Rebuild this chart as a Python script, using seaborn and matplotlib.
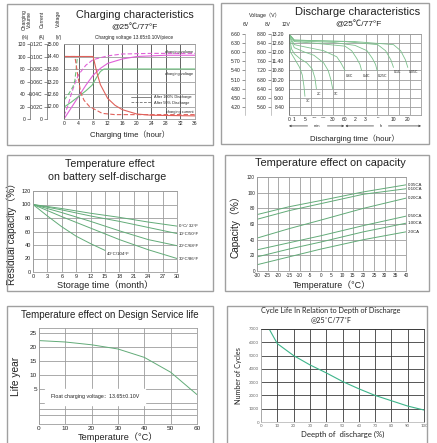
import numpy as np
import pandas as pd
import seaborn as sns
import matplotlib.pyplot as plt
from matplotlib.patches import Rectangle
from matplotlib.lines import Line2D
from matplotlib.ticker import FixedLocator

W, H = 437, 443

# ---------------- data ----------------
# 1. charging characteristics (hours, value on the 0-120 "charging volume" scale)
chg_vol100_h = [0, 2, 4, 6, 8, 10, 12, 16, 20, 24, 28, 36]
chg_vol100 = [0, 18, 36, 54, 70, 81, 89, 96, 100, 101, 102, 102]
chg_vol50_h = [0, 1, 2, 3, 4, 6, 8, 12, 16, 24, 36]
chg_vol50 = [5, 20, 40, 57, 71, 86, 95, 101, 104, 105, 105]
chg_volt100_h = [0, 2, 4, 6, 7.7, 9, 10, 11, 36]
chg_volt100 = [19, 27, 36, 45, 54, 67, 76, 80, 80]
chg_volt50_h = [0, 1.5, 2.5, 3, 3.3, 3.6, 3.9]
chg_volt50 = [30, 42, 52, 62, 78, 95, 100]
chg_cur100_h = [0, 8, 9, 10, 12, 14, 16, 20, 24, 36]
chg_cur100 = [100, 100, 75, 55, 33, 22, 15, 8, 6, 5]
chg_cur50_h = [0, 3, 3.7, 4.6, 5.5, 7, 10.5, 14, 36]
chg_cur50 = [100, 100, 73, 42, 30, 20, 9, 7, 7]

chg_left_ticks = [0, 20, 40, 60, 80, 100, 120]
chg_vol_labels = ['0', '20', '40', '60', '80', '100', '120']
chg_cur_labels = ['0', '0.02C', '0.04C', '0.06C', '0.08C', '0.10C', '0.12C']
chg_volt_labels = ['', '12.00', '12.60', '13.20', '13.80', '14.40', '15.00']

# 2. discharge characteristics (minutes, volts of a 12V block)
dis_rates = ['3C', '2C', '1C', '0.6C', '0.4C', '0.25C', '0.1C', '0.05C']
dis_min = [
    [0, 0.3, 1, 2, 3, 4, 4.6, 5],
    [0, 0.5, 1, 3, 6, 9, 11, 12.5],
    [0, 1, 5, 10, 20, 25, 28, 30],
    [0, 1, 5, 20, 40, 50, 60],
    [0, 1, 10, 60, 100, 130, 150, 160],
    [0, 1, 30, 120, 200, 250, 280, 295],
    [0, 1, 60, 300, 450, 550, 600],
    [0, 1, 120, 600, 900, 1100, 1200],
]
dis_volt = [
    [13.1, 12.0, 11.6, 11.3, 11.0, 10.5, 9.8, 9.1],
    [13.1, 12.2, 11.9, 11.6, 11.3, 10.9, 10.3, 9.6],
    [13.1, 12.3, 12.0, 11.8, 11.3, 10.8, 10.2, 9.6],
    [13.15, 12.5, 12.35, 12.1, 11.7, 11.3, 10.8],
    [13.2, 12.7, 12.6, 12.4, 12.1, 11.6, 11.2, 10.8],
    [13.2, 12.75, 12.65, 12.45, 12.1, 11.6, 11.2, 10.8],
    [13.2, 12.8, 12.7, 12.5, 12.1, 11.5, 11.0],
    [13.2, 12.8, 12.7, 12.5, 12.1, 11.5, 11.0],
]
dis_tick_min = [0, 1, 5, 10, 20, 30, 60, 120, 180, 300, 600, 1200]
dis_tick_labels = ['0', '1', '5', '10', '20', '30', '60', '2', '3', '5', '10', '20']
dis_v12 = [8.4, 9.0, 9.6, 10.2, 10.8, 11.4, 12.0, 12.6, 13.2]

# 3. self discharge (months, residual capacity %)
sd_temps = ['0°C/ 32°F', '10°C/50°F', '20°C/68°F', '30°C/86°F', '40°C/104°F']
sd_months = [
    [0, 6, 12, 18, 24, 30],
    [0, 6, 12, 18, 24, 30],
    [0, 6, 12, 18, 24, 30],
    [0, 6, 12, 18, 24, 30],
    [0, 3, 6, 9, 12, 15],
]
sd_capacity = [
    [100, 94, 87, 81, 74, 68],
    [100, 92, 83, 75, 66, 57],
    [100, 88, 75, 61, 48, 39],
    [100, 82, 65, 48, 33, 20],
    [100, 83, 67, 53, 42, 32],
]

# 4. temperature vs capacity
cap_rates = ['0.05CA', '0.10CA', '0.20CA', '0.50CA', '1.00CA', '2.0CA']
cap_temp = [-30, -15, 0, 20, 40]
cap_values = [
    [72, 82, 90, 101, 110],
    [66, 77, 86, 98, 105],
    [42, 54, 65, 80, 93],
    [27, 36, 45, 58, 70],
    [18, 28, 37, 50, 61],
    [8, 18, 28, 40, 50],
]

# 5. design service life
life_temp = [0, 10, 20, 30, 40, 50, 60]
life_years = [22.3, 21.8, 20.8, 19.3, 16.3, 11.0, 3.0]

# 6. cycle life
dod = [5, 10, 20, 30, 40, 50, 60, 70, 80, 90, 100]
cycles = [7000, 5900, 5000, 4300, 3700, 3050, 2500, 2000, 1600, 1200, 900]

# ---------------- style ----------------
sns.set_theme(style='white')
plt.rcParams['font.family'] = ['Liberation Sans', 'Noto Sans CJK SC', 'DejaVu Sans']
plt.rcParams['axes.linewidth'] = 0.6
plt.rcParams['axes.unicode_minus'] = False

GREEN = '#62ab78'
GRID = '#9c9c9c'
DARK = '#4a4a4a'
TXT = '#222222'

fig = plt.figure(figsize=(W / 100, H / 100), dpi=100)


def box(l, t, r, b):
    return [l / W, 1 - b / H, (r - l) / W, (b - t) / H]


def ftext(x, y, s, size, **kw):
    kw.setdefault('ha', 'center')
    kw.setdefault('va', 'center')
    fig.text(x / W, 1 - y / H, s, fontsize=size, color=TXT, **kw)


def frame(l, t, r, b):
    fig.patches.append(Rectangle((l / W, 1 - b / H), (r - l) / W, (b - t) / H,
                                 transform=fig.transFigure, fill=False,
                                 ec='#a0a0a0', lw=1.0))


def style_axes(ax, size, gcolor=GRID, pad=1.5):
    ax.tick_params(labelsize=size, length=0, pad=pad, colors=TXT)
    ax.grid(True, color=gcolor, lw=0.6)
    for s in ax.spines.values():
        s.set_color(gcolor)
        s.set_linewidth(0.6)


for b in [(7, 4, 213, 145), (221, 3, 429, 144), (7, 155, 213, 291),
          (225, 155, 429, 291), (7, 306, 213, 446), (227, 306, 427, 446)]:
    frame(*b)

# ---------- 1. charging characteristics ----------
parts = [('volume', 'After 100% Discharge', chg_vol100_h, chg_vol100),
         ('volume', 'After 50% Discharge', chg_vol50_h, chg_vol50),
         ('voltage', 'After 100% Discharge', chg_volt100_h, chg_volt100),
         ('voltage', 'After 50% Discharge', chg_volt50_h, chg_volt50),
         ('current', 'After 100% Discharge', chg_cur100_h, chg_cur100),
         ('current', 'After 50% Discharge', chg_cur50_h, chg_cur50)]
df1 = pd.concat([pd.DataFrame({'hour': xs, 'val': ys, 'curve': c, 'kind': k})
                 for c, k, xs, ys in parts], ignore_index=True)

ax1 = fig.add_axes(box(64, 44, 195, 119))
sns.lineplot(data=df1, x='hour', y='val', hue='curve', style='kind',
             palette={'volume': '#e060d8', 'voltage': '#6cbf7c', 'current': '#e0605a'},
             dashes={'After 100% Discharge': '', 'After 50% Discharge': (4, 2)},
             estimator=None, sort=False, lw=0.8, legend=False, ax=ax1)
ax1.set_xlim(0, 36)
ax1.set_ylim(0, 120)
ax1.set_xticks(range(0, 37, 4))
ax1.set_yticks(chg_left_ticks, chg_volt_labels)
style_axes(ax1, 3.6)
ax1.grid(True, axis='x', color=DARK, lw=0.6)
ax1.spines['left'].set_color('#666')
ax1.tick_params(axis='y', length=2, width=0.5, color='#666')
ax1.set_xlabel('Charging time（hour）', fontsize=5.6, labelpad=3, color=TXT)
ax1.set_ylabel('')
for loc, labels in [(-0.13, chg_cur_labels), (-0.26, chg_vol_labels)]:
    sec = ax1.secondary_yaxis(loc)
    sec.set_ticks(chg_left_ticks, labels=labels)
    sec.tick_params(labelsize=3.6, length=2, width=0.5, color='#666', pad=1, colors=TXT)
    sec.spines['left'].set_color('#666')
    sec.spines['left'].set_linewidth(0.5)

ax1.text(35.6, 108, 'charging volume', fontsize=2.8, ha='right', va='center', color=TXT)
ax1.text(35.6, 72, 'charging voltage', fontsize=2.8, ha='right', va='center', color=TXT)
ax1.text(35.6, 12, 'charging current', fontsize=2.8, ha='right', va='center', color=TXT)
handles = [Line2D([], [], color='#555', lw=0.5),
           Line2D([], [], color='#555', lw=0.5, ls=(0, (4, 2)))]
ax1.legend(handles, ['After 100% Discharge', 'After 50% Discharge'], fontsize=2.8,
           frameon=False, loc='upper left', bbox_to_anchor=(0.5, 0.34),
           handlelength=5, labelspacing=0.3, borderpad=0)

ftext(135, 15, 'Charging characteristics', 7.8)
ftext(134, 28, '@25℃/77°F', 6.0)
ftext(134, 38, 'Charging voltage 13.65±0.10V/piece', 3.4)
ftext(27, 20, 'Charging\nVolume', 3.6, rotation=90, linespacing=0.9)
ftext(42, 19, 'Current', 3.6, rotation=90)
ftext(58, 18, 'Voltage', 3.6, rotation=90)
ftext(25, 38, '(%)', 3.4)
ftext(42, 38, '(A)', 3.4)
ftext(59, 38, '(V)', 3.4)

# ---------- 2. discharge characteristics ----------
scale_min = np.array([0, 1, 5, 10, 20, 30, 60, 120, 180, 300, 600, 1200, 1800])
scale_pos = np.array([0, 0.48, 1.45, 2.27, 3.15, 3.97, 5.09, 6.0, 6.9, 8.06, 9.5, 10.8, 12.0])


def fwd(m):
    return np.interp(m, scale_min, scale_pos)


def inv(p):
    return np.interp(p, scale_pos, scale_min)


df2 = pd.concat([pd.DataFrame({'minute': xs, 'volt': ys, 'rate': r})
                 for r, xs, ys in zip(dis_rates, dis_min, dis_volt)], ignore_index=True)
ax2 = fig.add_axes(box(289, 34, 421, 115))
ax2.set_xscale('function', functions=(fwd, inv))
sns.lineplot(data=df2, x='minute', y='volt', hue='rate',
             palette={r: '#7cc08c' for r in dis_rates},
             estimator=None, sort=False, lw=0.6, legend=False, ax=ax2)
ax2.set_xlim(0, 1800)
ax2.set_ylim(7.87, 13.2)
ax2.set_xticks(dis_tick_min, dis_tick_labels)
ax2.xaxis.set_minor_locator(FixedLocator(inv(np.arange(13))))
ax2.set_yticks(dis_v12, [f'{v:.2f}' for v in dis_v12])
style_axes(ax2, 3.6)
ax2.grid(False)
ax2.grid(True, which='minor', axis='x', color=GRID, lw=0.6)
ax2.grid(True, which='major', axis='y', color=GRID, lw=0.6)
ax2.tick_params(which='minor', length=0)
ax2.tick_params(axis='y', length=2, width=0.5, color='#666')
ax2.spines['left'].set_color('#666')
ax2.set_xlabel('Discharging time（hour）', fontsize=5.6, labelpad=9, color=TXT)
ax2.set_ylabel('')
for loc, f, g in [(-0.136, lambda v: v * 2 / 3, lambda v: v * 1.5),
                  (-0.333, lambda v: v / 2, lambda v: v * 2)]:
    sec = ax2.secondary_yaxis(loc, functions=(f, g))
    vals = [f(v) for v in dis_v12]
    sec.set_ticks(vals, labels=[f'{v:.2f}' for v in vals])
    sec.tick_params(labelsize=3.6, length=2, width=0.5, color='#666', pad=1, colors=TXT)
    sec.spines['left'].set_color('#999')
    sec.spines['left'].set_linewidth(0.4)
for r, xs, ys in zip(dis_rates, dis_min, dis_volt):
    ax2.text(xs[-1] * 1.05, ys[-1] - 0.2, r, fontsize=2.5, ha='left', va='top', color=TXT)
arrow = dict(arrowstyle='<->', lw=0.5, color='#333', shrinkA=0, shrinkB=0, mutation_scale=3)
ax2.annotate('', xy=(0, -0.135), xytext=(58, -0.135), xycoords=('data', 'axes fraction'),
             textcoords=('data', 'axes fraction'), arrowprops=arrow, annotation_clip=False)
ax2.annotate('', xy=(62, -0.135), xytext=(1800, -0.135), xycoords=('data', 'axes fraction'),
             textcoords=('data', 'axes fraction'), arrowprops=arrow, annotation_clip=False)
ax2.text(13, -0.135, 'min', transform=ax2.get_xaxis_transform(), fontsize=3, ha='center',
         va='center', backgroundcolor='white', color=TXT)
ax2.text(360, -0.135, 'h', transform=ax2.get_xaxis_transform(), fontsize=3, ha='center',
         va='center', backgroundcolor='white', color=TXT)

ftext(358, 12, 'Discharge characteristics', 8.0)
ftext(358, 25, '@25℃/77°F', 6.0)
ftext(265, 15, 'Voltage（V）', 3.8)
ftext(246, 25, '6V', 3.6)
ftext(268, 25, '8V', 3.6)
ftext(286, 25, '12V', 3.6)

# ---------- 3. self discharge ----------
df3 = pd.concat([pd.DataFrame({'month': xs, 'cap': ys, 'temp': t})
                 for t, xs, ys in zip(sd_temps, sd_months, sd_capacity)], ignore_index=True)
ax3 = fig.add_axes(box(33, 191, 177, 272))
sns.lineplot(data=df3, x='month', y='cap', hue='temp',
             palette={t: GREEN for t in sd_temps},
             estimator=None, sort=False, lw=0.7, legend=False, ax=ax3)
ax3.set_xlim(0, 30)
ax3.set_ylim(0, 120)
ax3.set_xticks(range(0, 31, 3))
ax3.set_yticks(range(0, 121, 20))
style_axes(ax3, 4.0)
ax3.set_xlabel('Storage time（month）', fontsize=6.6, labelpad=0.5, color=TXT)
ax3.set_ylabel('Residual capacity（%）', fontsize=7.2, labelpad=3, color=TXT)
for t, xs, ys in zip(sd_temps, sd_months, sd_capacity):
    if xs[-1] < 30:
        ax3.text(xs[-1] + 0.3, ys[-1] - 5, t, fontsize=3.2, ha='left', va='center', color=TXT)
    else:
        ax3.text(30.4, ys[-1], t, fontsize=3.2, ha='left', va='center', color=TXT)
ftext(110, 164, 'Temperature effect', 7.7)
ftext(107, 177, 'on battery self-discharge', 7.7)

# ---------- 4. temperature vs capacity ----------
df4 = pd.concat([pd.DataFrame({'temp': cap_temp, 'cap': ys, 'rate': r})
                 for r, ys in zip(cap_rates, cap_values)], ignore_index=True)
ax4 = fig.add_axes(box(257, 177, 406, 271))
sns.lineplot(data=df4, x='temp', y='cap', hue='rate',
             palette={r: GREEN for r in cap_rates},
             estimator=None, sort=False, lw=0.7, legend=False, ax=ax4)
ax4.set_xlim(-30, 40)
ax4.set_ylim(0, 120)
ax4.set_xticks(range(-30, 41, 5))
ax4.set_yticks(range(0, 121, 20))
style_axes(ax4, 3.4)
ax4.set_xlabel('Temperature（°C）', fontsize=6.4, labelpad=2, color=TXT)
ax4.set_ylabel('Capacity（%）', fontsize=7.2, labelpad=5, color=TXT)
for r, ys in zip(cap_rates, cap_values):
    ax4.text(41, ys[-1], r, fontsize=3.2, ha='left', va='center', color=TXT)
ftext(330, 163, 'Temperature effect on capacity', 7.9)

# ---------- 5. design service life ----------
ax5 = fig.add_axes(box(39, 328, 197, 424))
sns.lineplot(x=life_temp, y=life_years, color=GREEN, lw=0.7, ax=ax5)
ax5.set_xlim(0, 60)
ax5.set_ylim(-7.5, 26.8)
ax5.set_xticks(range(0, 61, 10))
ax5.set_yticks([5, 10, 15, 20, 25])
ax5.yaxis.set_minor_locator(FixedLocator([0, -2.2, -4.4]))
style_axes(ax5, 4.6)
ax5.grid(True, which='minor', axis='y', color=GRID, lw=0.6)
ax5.tick_params(which='minor', length=0)
ax5.set_xlabel('Temperature（°C）', fontsize=6.6, labelpad=0.5, color=TXT)
ax5.set_ylabel('Life year', fontsize=7.4, labelpad=6, color=TXT)
ax5.text(4.5, 2.2, 'Float charging voltage：13.65±0.10V', fontsize=3.8, ha='left',
         va='center', color=TXT, backgroundcolor='white')
ftext(110, 315, 'Temperature effect on Design Service life', 7.0)

# ---------- 6. cycle life ----------
ax6 = fig.add_axes(box(261, 329, 424, 422))
sns.lineplot(x=dod, y=cycles, color='#3db48a', lw=0.8, ax=ax6)
ax6.set_xlim(0, 100)
ax6.set_ylim(0, 7000)
ax6.set_xticks(range(0, 101, 10))
ax6.set_yticks(range(0, 7001, 1000))
style_axes(ax6, 3.2, gcolor='#3a3a3a')
ax6.spines['left'].set_color('#bbb')
ax6.spines['bottom'].set_color('#bbb')
fam6 = ['Lato', 'DejaVu Sans']
for lab in ax6.get_xticklabels() + ax6.get_yticklabels():
    lab.set_family(fam6)
    lab.set_color('#666')
ax6.set_xlabel('Deepth of  discharge (%)', fontsize=5.6, labelpad=2, family=fam6, color=TXT)
ax6.set_ylabel('Number of Cycles', fontsize=5.2, labelpad=5, family=fam6, color=TXT)
fig.text(331 / W, 1 - 311 / H, 'Cycle Life In Relation to Depth of Discharge', fontsize=5.2,
         ha='center', va='center', family=fam6, color=TXT)
fig.text(331 / W, 1 - 320 / H, '@25˚C/77˚F', fontsize=5.2, ha='center', va='center',
         family=fam6, color=TXT)

fig.savefig('out.png', dpi=100)
